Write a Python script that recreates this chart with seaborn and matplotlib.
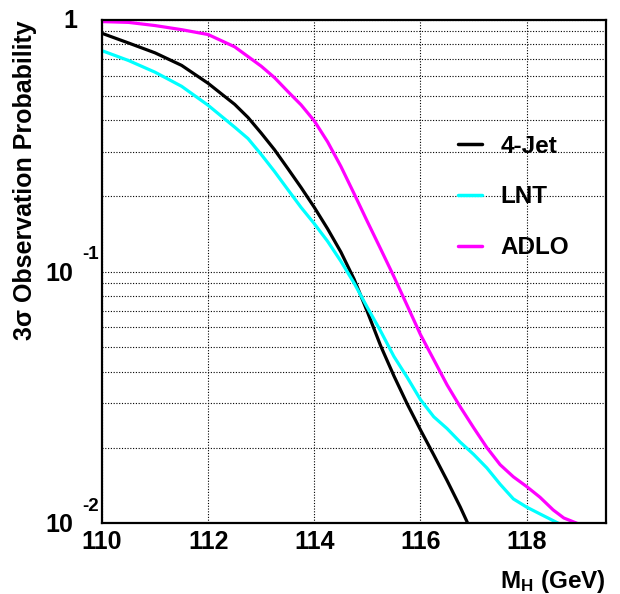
import numpy as np
import pandas as pd
import matplotlib
matplotlib.use("Agg")
import matplotlib.pyplot as plt
import matplotlib.transforms as mtrans
import seaborn as sns
from matplotlib.ticker import FixedLocator, MultipleLocator, NullFormatter, LogLocator
from matplotlib.lines import Line2D

# ---- data ----
series_names = ["4-Jet", "LNT", "ADLO"]
series_colors = ["#000000", "#00ffff", "#ff00ff"]

jet_mh = [110.0, 110.5, 111.0, 111.5, 112.0, 112.5, 112.75, 113.0, 113.25, 113.5,
          113.75, 114.0, 114.25, 114.5, 114.75, 115.0, 115.25, 115.5, 115.75,
          116.0, 116.25, 116.5, 116.75, 116.9]
jet_p = [0.885, 0.81, 0.74, 0.66, 0.56, 0.462, 0.41, 0.355, 0.305, 0.257,
         0.216, 0.180, 0.148, 0.1197, 0.0933, 0.0692, 0.0507, 0.0385, 0.0298,
         0.0235, 0.0187, 0.0148, 0.0116, 0.0099]

lnt_mh = [110.0, 110.5, 111.0, 111.5, 112.0, 112.5, 112.75, 113.0, 113.25, 113.5,
          113.75, 114.0, 114.25, 114.5, 114.75, 115.0, 115.25, 115.5, 115.75,
          116.0, 116.25, 116.5, 116.75, 117.0, 117.25, 117.5, 117.75, 118.0,
          118.25, 118.6]
lnt_p = [0.755, 0.69, 0.62, 0.545, 0.458, 0.375, 0.338, 0.292, 0.25, 0.212,
         0.18, 0.155, 0.132, 0.11, 0.09, 0.072, 0.058, 0.046, 0.038,
         0.031, 0.0265, 0.0238, 0.021, 0.0188, 0.0166, 0.0143, 0.0125, 0.0116,
         0.0109, 0.0100]

adlo_mh = [110.0, 110.5, 111.0, 111.5, 112.0, 112.5, 113.0, 113.25, 113.5, 113.75,
           114.0, 114.25, 114.5, 114.75, 115.0, 115.25, 115.5, 115.75, 116.0,
           116.25, 116.5, 116.75, 117.0, 117.25, 117.5, 117.75, 118.0, 118.25,
           118.5, 118.7, 118.95]
adlo_p = [0.985, 0.978, 0.95, 0.915, 0.875, 0.782, 0.655, 0.59, 0.52, 0.46,
          0.397, 0.328, 0.262, 0.204, 0.158, 0.123, 0.0955, 0.0733, 0.0562,
          0.0447, 0.0355, 0.029, 0.024, 0.020, 0.0171, 0.0153, 0.014, 0.0127,
          0.0113, 0.0105, 0.0100]

x_major_ticks = [110, 112, 114, 116, 118]
x_tick_labels = ["110", "112", "114", "116", "118"]
y_major_ticks = [0.01, 0.1, 1.0]
y_tick_mantissa = ["10", "10", "1"]
y_tick_exponent = ["-2", "-1", ""]

x_label = r"$M_{H}$ (GeV)"
y_label = "3σ Observation Probability"

# ---- build long table ----
df = pd.concat([
    pd.DataFrame({"mh": jet_mh, "p": jet_p, "s": series_names[0]}),
    pd.DataFrame({"mh": lnt_mh, "p": lnt_p, "s": series_names[1]}),
    pd.DataFrame({"mh": adlo_mh, "p": adlo_p, "s": series_names[2]}),
], ignore_index=True)

sns.set_style("white")
plt.rcParams["font.family"] = ["Liberation Sans", "DejaVu Sans"]
plt.rcParams["font.weight"] = "bold"
plt.rcParams["text.color"] = "black"
plt.rcParams["axes.labelcolor"] = "black"
plt.rcParams["xtick.color"] = "black"
plt.rcParams["ytick.color"] = "black"
plt.rcParams["mathtext.fontset"] = "custom"
plt.rcParams["mathtext.rm"] = "Liberation Sans:bold"
plt.rcParams["mathtext.bf"] = "Liberation Sans:bold"
plt.rcParams["mathtext.it"] = "Liberation Sans:bold"
plt.rcParams["mathtext.default"] = "bf"

fig = plt.figure(figsize=(6.2, 5.94), dpi=100)
ax = fig.add_axes([0.1645, 0.119, 0.8125, 0.8474])

sns.lineplot(data=df, x="mh", y="p", hue="s", hue_order=series_names,
             palette=dict(zip(series_names, series_colors)),
             linewidth=2.3, ax=ax, legend=False, sort=False, estimator=None)

ax.set_yscale("log")
ax.set_xlim(110, 119.49)
ax.set_ylim(0.01, 1.0)

ax.yaxis.set_major_locator(FixedLocator(y_major_ticks))
ax.yaxis.set_minor_locator(LogLocator(base=10, subs=np.arange(2, 10)))
ax.yaxis.set_minor_formatter(NullFormatter())
ax.yaxis.set_major_formatter(NullFormatter())
ax.xaxis.set_major_locator(FixedLocator(x_major_ticks))
ax.set_xticklabels(x_tick_labels)
ax.xaxis.set_minor_locator(MultipleLocator(0.5))

ax.grid(True, which="major", axis="x", color="black", linestyle=(0, (1, 1.5)), linewidth=0.8)
ax.grid(True, which="both", axis="y", color="black", linestyle=(0, (1, 1.5)), linewidth=0.8)

ax.tick_params(axis="both", which="major", direction="in", length=10, width=1.2,
               labelsize=18, pad=5, colors="black")
ax.tick_params(axis="x", which="minor", direction="in", length=5, width=1.0)
ax.tick_params(axis="y", which="minor", direction="in", length=5, width=1.0)

# ROOT-style y tick labels (mantissa + raised exponent)
blend = mtrans.blended_transform_factory(ax.transAxes, ax.transData)
for val, man, ex in zip(y_major_ticks, y_tick_mantissa, y_tick_exponent):
    if ex:
        ax.text(-0.058, val, man, transform=blend + mtrans.ScaledTranslation(0, -2 / 100, fig.dpi_scale_trans),
                ha="right", va="center", fontsize=18, fontweight="bold", color="black")
        ax.text(-0.040, val, ex, transform=blend + mtrans.ScaledTranslation(0, 17 / 100, fig.dpi_scale_trans),
                ha="left", va="center", fontsize=13.5, fontweight="bold", color="black")
    else:
        ax.text(-0.049, val, man, transform=blend + mtrans.ScaledTranslation(0, -1 / 100, fig.dpi_scale_trans),
                ha="right", va="center", fontsize=18, fontweight="bold", color="black")

for sp in ax.spines.values():
    sp.set_linewidth(1.6)
    sp.set_color("black")

ax.set_xlabel(x_label, fontsize=17.5, fontweight="bold", loc="right", labelpad=10, color="black")
ax.set_ylabel(y_label, fontsize=18, fontweight="bold", loc="top", color="black")
ax.yaxis.set_label_coords(-0.13, 1.0)

handles = [Line2D([], [], color=c, linewidth=2.5) for c in series_colors]
leg = ax.legend(handles, series_names, loc="upper left", bbox_to_anchor=(0.706, 0.772),
                frameon=False, fontsize=17.5, handlelength=1.0, handletextpad=0.75,
                labelspacing=1.14, borderpad=0, borderaxespad=0)
for t in leg.get_texts():
    t.set_color("black")

fig.savefig("out.png", dpi=100)
